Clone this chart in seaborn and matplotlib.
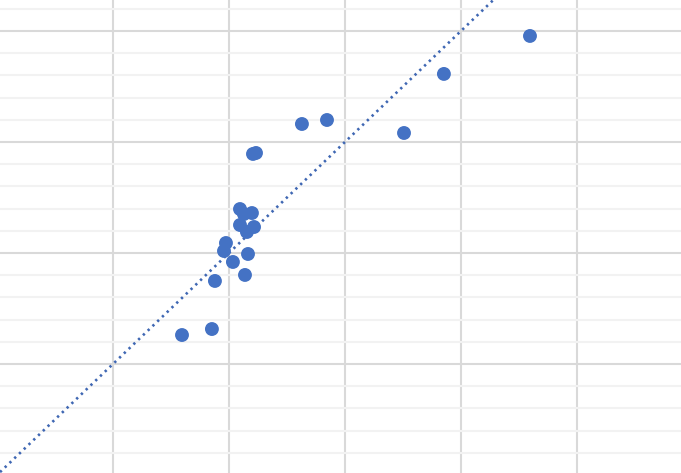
import numpy as np
import pandas as pd
import matplotlib
matplotlib.use('Agg')
import matplotlib.pyplot as plt
from matplotlib.ticker import MultipleLocator
import seaborn as sns

# values (grid units: one major vertical line = 1, one major horizontal line = 1)
x_vals = [4.595, 3.853, 3.509, 2.845, 2.629, 2.233, 2.207, 2.095, 2.129, 2.198, 2.095,
          2.216, 2.155, 1.974, 1.957, 2.164, 2.034, 2.138, 1.879, 1.853, 1.595]
y_vals = [2.955, 2.613, 2.081, 2.198, 2.162, 1.901, 1.892, 1.396, 1.351, 1.360, 1.252,
          1.234, 1.189, 1.090, 1.018, 0.991, 0.919, 0.802, 0.748, 0.315, 0.261]

# linear trendline as shown in the picture
trend_slope = 1.0
trend_intercept = -1.0

df = pd.DataFrame({'x': x_vals, 'y': y_vals})

sns.set_style('white')
fig = plt.figure(figsize=(6.81, 4.73), dpi=100)
ax = fig.add_axes([0, 0, 1, 1])
ax.set_xlim(0.026, 5.897)
ax.set_ylim(-0.982, 3.279)

blue = '#4472C4'
sns.scatterplot(data=df, x='x', y='y', ax=ax, s=100, color=blue, edgecolor='none', zorder=3)

xs = np.array(ax.get_xlim())
trend = pd.DataFrame({'x': xs, 'y': trend_slope * xs + trend_intercept})
sns.lineplot(data=trend, x='x', y='y', ax=ax, color='#3F67B3', lw=1.9,
             linestyle=(0, (0.9, 1.6)), zorder=2)

ax.xaxis.set_major_locator(MultipleLocator(1))
ax.yaxis.set_major_locator(MultipleLocator(1))
ax.yaxis.set_minor_locator(MultipleLocator(0.2))
ax.grid(which='major', color='#d9d9d9', lw=1.5, zorder=0)
ax.grid(which='minor', axis='y', color='#f2f2f2', lw=1.5, zorder=0)
ax.set_axisbelow(True)
ax.tick_params(which='both', length=0, labelbottom=False, labelleft=False)
ax.set_xlabel('')
ax.set_ylabel('')
for s in ax.spines.values():
    s.set_visible(False)

fig.savefig('out.png', dpi=100)
